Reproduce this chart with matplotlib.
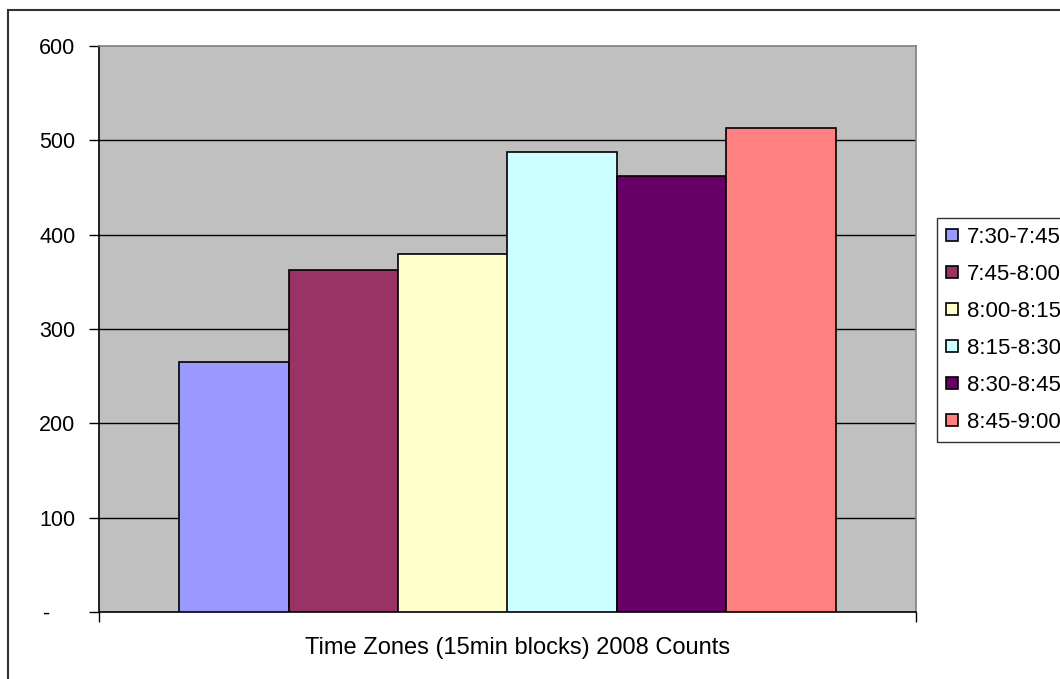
import matplotlib
matplotlib.use("Agg")
import matplotlib.pyplot as plt
from matplotlib.patches import Rectangle
from matplotlib.transforms import ScaledTranslation

time_zones = ["7:30-7:45", "7:45-8:00", "8:00-8:15", "8:15-8:30", "8:30-8:45", "8:45-9:00"]
counts = [265, 363, 380, 488, 462, 513]
colors = ["#9999FF", "#993366", "#FFFFCC", "#CCFFFF", "#660066", "#FF8080"]
y_ticks = [0, 100, 200, 300, 400, 500, 600]
y_tick_labels = ["-", "100", "200", "300", "400", "500", "600"]

plt.rcParams["font.family"] = ["Liberation Sans", "DejaVu Sans"]

fig = plt.figure(figsize=(10.6, 6.79), dpi=100)

# outer chart frame
fig.patches.append(Rectangle((8 / 1060, -0.05), 1.2, 1 - 10 / 679 + 0.05,
                             transform=fig.transFigure, fill=False,
                             edgecolor="#333333", linewidth=1.5))

ax = fig.add_axes([99 / 1060, 67 / 679, 817 / 1060, 566 / 679])
ax.set_facecolor("#C0C0C0")

group_width = 0.803
bar_width = group_width / len(counts)
for i, (label, value, color) in enumerate(zip(time_zones, counts, colors)):
    x = -group_width / 2 + bar_width * (i + 0.5)
    ax.bar(x, value, width=bar_width, color=color, edgecolor="black",
           linewidth=1.2, label=label, zorder=3)

ax.set_xlim(-0.5, 0.5)
ax.set_ylim(0, 600)
ax.set_yticks(y_ticks)
ax.set_yticklabels(y_tick_labels, fontsize=15.5)
ax.tick_params(axis="y", direction="out", length=7, width=1, pad=10)
ax.set_xticks([-0.5, 0.5])
ax.set_xticklabels(["", ""])
ax.tick_params(axis="x", direction="out", length=7, width=1)

# the zero label sits further left, as in accounting number format
zero_label = ax.get_yticklabels()[0]
zero_label.set_transform(zero_label.get_transform()
                         + ScaledTranslation(-0.25, 0, fig.dpi_scale_trans))

for y in y_ticks[1:-1]:
    ax.axhline(y, color="black", linewidth=1, zorder=1)

ax.spines["left"].set_color("black")
ax.spines["bottom"].set_color("black")
ax.spines["top"].set_color("#808080")
ax.spines["right"].set_color("#808080")
for s in ax.spines.values():
    s.set_linewidth(1.2)

ax.set_xlabel("Time Zones (15min blocks) 2008 Counts", fontsize=17, labelpad=10)
ax.xaxis.set_label_coords(0.512, -0.045)
ax.xaxis.label.set_va("top")

leg = ax.legend(loc="upper left", bbox_to_anchor=(937 / 1060, 1 - 218 / 679),
                bbox_transform=fig.transFigure, fontsize=16, frameon=True,
                fancybox=False, edgecolor="black", handlelength=0.55,
                handleheight=0.45, handletextpad=0.4, labelspacing=0.72,
                borderpad=0.4, borderaxespad=0)
leg.get_frame().set_linewidth(1)

fig.savefig("out.png", dpi=100)
